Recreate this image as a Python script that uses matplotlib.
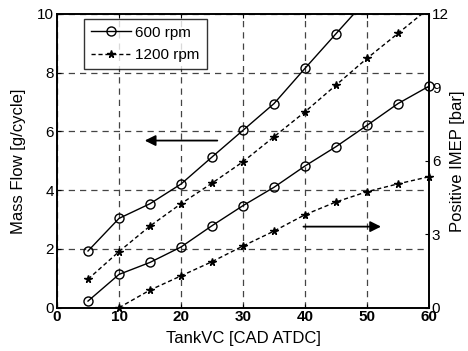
import matplotlib
matplotlib.use("Agg")
import matplotlib.pyplot as plt

plt.rcParams["font.family"] = ["Liberation Sans", "DejaVu Sans"]

# crank angle of tank valve closing
tank_vc = [5, 10, 15, 20, 25, 30, 35, 40, 45, 50, 55, 60]

# mass flow [g/cycle], left axis
flow_600 = [1.93, 3.04, 3.54, 4.21, 5.13, 6.04, 6.95, 8.15, 9.33, 10.5]
flow_600_x = [5, 10, 15, 20, 25, 30, 35, 40, 45, 50]
flow_1200 = [0.97, 1.91, 2.78, 3.54, 4.24, 4.97, 5.82, 6.67, 7.58, 8.49, 9.34, 10.2]

# positive IMEP [bar], right axis
imep_600 = [0.27, 1.36, 1.85, 2.48, 3.35, 4.17, 4.92, 5.79, 6.58, 7.45, 8.34, 9.05]
imep_1200_x = [10, 15, 20, 25, 30, 35, 40, 45, 50, 55, 60]
imep_1200 = [0.0, 0.72, 1.30, 1.88, 2.52, 3.13, 3.80, 4.32, 4.74, 5.06, 5.35]

x_ticks = [0, 10, 20, 30, 40, 50, 60]
left_ticks = [0, 2, 4, 6, 8, 10]
right_ticks = [0, 3, 6, 9, 12]

fig = plt.figure(figsize=(4.68, 3.51), dpi=100)
ax = fig.add_axes([0.1218, 0.1234, 0.795, 0.8368])
ax2 = ax.twinx()

circle = dict(marker="o", markersize=6.5, markerfacecolor="none",
              markeredgecolor="black", markeredgewidth=1.0)
star = dict(marker="*", markersize=5.5, markerfacecolor="black",
            markeredgecolor="black")

ax.plot(flow_600_x, flow_600, "-", color="black", lw=1.0, label="600 rpm", **circle)
ax.plot(tank_vc, flow_1200, "--", color="black", lw=1.0, label="1200 rpm",
        dashes=(3, 2), **star)
ax2.plot(tank_vc, imep_600, "-", color="black", lw=1.0, clip_on=False, **circle)
ax2.plot(imep_1200_x, imep_1200, "--", color="black", lw=1.0, dashes=(3, 2),
         clip_on=False, **star)

ax.set_xlim(0, 60)
ax.set_ylim(0, 10)
ax2.set_ylim(0, 12)
ax.set_xticks(x_ticks, [str(t) for t in x_ticks], fontweight="bold")
ax.set_yticks(left_ticks)
ax2.set_yticks(right_ticks)

ax.grid(True, color="#444444", linestyle=(0, (5, 4)), linewidth=0.9)
ax.set_axisbelow(True)

ax.tick_params(direction="in", top=True, labelsize=11, length=3, pad=2)
ax2.tick_params(direction="in", labelsize=11, length=3, pad=2)
for a in (ax, ax2):
    for s in a.spines.values():
        s.set_linewidth(1.2)

ax.set_xlabel("TankVC [CAD ATDC]", fontsize=12, labelpad=5)
ax.set_ylabel("Mass Flow [g/cycle]", fontsize=12, labelpad=8)
fig.text(0.977, 0.5406, "Positive IMEP [bar]", rotation=90, fontsize=12,
         ha="center", va="center")

ax.annotate("", xy=(13.7, 5.69), xytext=(26.3, 5.69),
            arrowprops=dict(arrowstyle="-|>", color="black", lw=1.3,
                            mutation_scale=16))
ax.annotate("", xy=(52.7, 2.76), xytext=(39.3, 2.76),
            arrowprops=dict(arrowstyle="-|>", color="black", lw=1.3,
                            mutation_scale=16))

leg = ax.legend(loc="upper left", bbox_to_anchor=(0.073, 0.983), fontsize=11,
                frameon=True, fancybox=False, edgecolor="black",
                borderaxespad=0, handlelength=2.6, borderpad=0.45,
                labelspacing=0.55, handletextpad=0.3)
leg.get_frame().set_linewidth(1.0)
leg.set_zorder(5)

fig.savefig("out.png", dpi=100)
